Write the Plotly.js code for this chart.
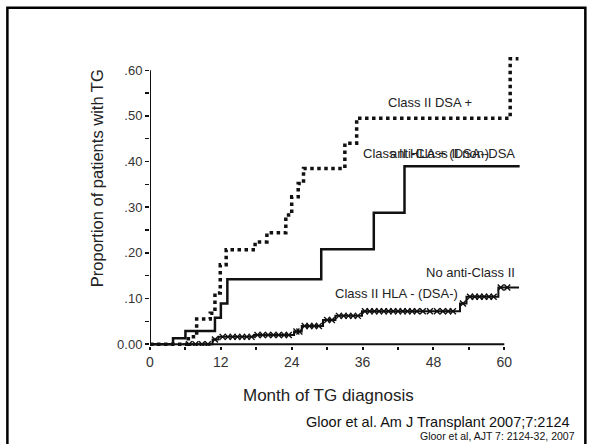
<!DOCTYPE html>
<html>
<head>
<meta charset="utf-8">
<script src="https://cdn.plot.ly/plotly-3.0.1.min.js"></script>
<style>html,body{margin:0;padding:0;background:#fff;}#chart{width:592px;height:444px;}</style>
</head>
<body>
<div id="chart"></div>
<script>
// Class II DSA + (dotted)
var dsaPosMonths = [0, 6.5, 7.9, 10.2, 11.0, 11.9, 12.9, 17.8, 19.8, 23.0, 24.0, 25.1, 26.0, 33.0, 35.0, 61.0, 62.4];
var dsaPosValues = [0, 0.016, 0.055, 0.068, 0.112, 0.174, 0.207, 0.224, 0.244, 0.283, 0.323, 0.352, 0.385, 0.440, 0.495, 0.625, 0.625];

// Class II HLA + (DSA-) / anti-Class II non-DSA (solid)
var nonDsaMonths = [0, 3.9, 6.0, 11.0, 12.0, 13.1, 29.0, 37.9, 43.1, 62.6];
var nonDsaValues = [0, 0.013, 0.029, 0.058, 0.089, 0.142, 0.208, 0.288, 0.390, 0.390];

// No anti-Class II / Class II HLA - (DSA-) (solid with censor marks)
var noAntiMonths = [5.5, 10.6, 11.6, 17.6, 24.4, 25.7, 29.3, 31.4, 35.9, 52.5, 53.6, 59.0, 62.5];
var noAntiValues = [0, 0.010, 0.016, 0.020, 0.028, 0.040, 0.053, 0.062, 0.072, 0.089, 0.104, 0.124, 0.124];

// censor marks on the No anti-Class II curve
var censorMonths = [6.6, 7.7, 8.8, 9.8, 11.0, 12.3, 13.2, 14.0, 14.8, 15.6, 16.4, 17.2, 18.2, 19.1, 20.0, 20.9, 21.8, 22.7, 23.5, 24.8, 25.3, 26.2, 27.0, 27.8, 28.6, 30.0, 30.8, 32.0, 32.8, 33.6, 34.4, 35.2, 36.4, 37.2, 38.0, 38.8, 39.6, 40.4, 41.2, 42.0, 42.8, 43.6, 44.4, 45.2, 46.2, 47.4, 48.6, 49.6, 50.5, 51.3, 53.0, 54.2, 55.0, 55.8, 56.6, 57.4, 58.2, 59.4, 60.5];
var censorValues = [0, 0, 0, 0, 0.010, 0.016, 0.016, 0.016, 0.016, 0.016, 0.016, 0.016, 0.020, 0.020, 0.020, 0.020, 0.020, 0.020, 0.020, 0.028, 0.028, 0.040, 0.040, 0.040, 0.040, 0.053, 0.053, 0.062, 0.062, 0.062, 0.062, 0.062, 0.072, 0.072, 0.072, 0.072, 0.072, 0.072, 0.072, 0.072, 0.072, 0.072, 0.072, 0.072, 0.072, 0.072, 0.072, 0.072, 0.072, 0.072, 0.089, 0.104, 0.104, 0.104, 0.104, 0.104, 0.104, 0.124, 0.124];

var xTickVals = [0, 12, 24, 36, 48, 60];
var xTickText = ['0', '12', '24', '36', '48', '60'];
var yTickVals = [0, 0.1, 0.2, 0.3, 0.4, 0.5, 0.6];
var yTickText = ['0.00', '.10', '.20', '.30', '.40', '.50', '.60'];

var FONT = 'Liberation Sans, Arial, sans-serif';

var traces = [
  {x: nonDsaMonths, y: nonDsaValues, mode: 'lines', line: {shape: 'hv', color: '#111', width: 2.5}, hoverinfo: 'skip'},
  {x: noAntiMonths, y: noAntiValues, mode: 'lines', line: {shape: 'hv', color: '#111', width: 2}, hoverinfo: 'skip'},
  {x: censorMonths, y: censorValues, mode: 'markers', marker: {symbol: 'x-thin', size: 6, color: '#111', line: {width: 1.4, color: '#111'}}, hoverinfo: 'skip'},
  {x: dsaPosMonths, y: dsaPosValues, mode: 'lines', line: {shape: 'hv', color: '#111', width: 3.5, dash: 'dot'}, hoverinfo: 'skip'}
];

var W = 371.7, H = 294.1, L = 150, T = 51.7;
function px(x) { return (x - L) / W; }
function py(y) { return (T + H - y) / H; }

var layout = {
  width: 592, height: 444,
  margin: {l: 150, r: 592 - 150 - 371.7, t: 51.7, b: 444 - 51.7 - 294.1},
  paper_bgcolor: '#fff', plot_bgcolor: 'rgba(0,0,0,0)',
  showlegend: false,
  font: {family: FONT, color: '#222'},
  xaxis: {
    range: [0, 63], showgrid: false, zeroline: false, showline: false,
    tickvals: xTickVals, ticktext: xTickText, ticks: 'outside', ticklen: 3, tickwidth: 2, tickcolor: '#111',
    minor: {dtick: 6, tick0: 0, ticks: 'outside', ticklen: 3, tickwidth: 2, tickcolor: '#111'},
    tickfont: {size: 14, color: '#333', family: FONT}
  },
  yaxis: {
    range: [-0.004, 0.64], showgrid: false, zeroline: false, showline: false,
    tickvals: yTickVals, ticktext: yTickText, ticks: 'outside', ticklen: 4, tickwidth: 1.5, tickcolor: '#111',
    minor: {dtick: 0.05, tick0: 0, ticks: 'outside', ticklen: 4, tickwidth: 1.5, tickcolor: '#111'},
    tickfont: {size: 13, color: '#333', family: FONT}
  },
  shapes: [
    {type: 'line', xref: 'x', yref: 'y', x0: 0, x1: 60, y0: 0, y1: 0, line: {color: '#111', width: 2}},
    {type: 'line', xref: 'x', yref: 'y', x0: 0, x1: 0, y0: 0, y1: 0.6, line: {color: '#111', width: 2}},
    {type: 'rect', xref: 'paper', yref: 'paper', x0: px(7.5), x1: px(585), y0: py(7.5), y1: py(470), line: {color: '#000', width: 2.5}, fillcolor: 'rgba(0,0,0,0)'}
  ],
  annotations: [
    {xref: 'x', yref: 'y', x: 47.46, y: 0.53, text: 'Class II DSA +', showarrow: false, xanchor: 'center', yanchor: 'middle', font: {size: 13, color: '#222'}},
    {xref: 'x', yref: 'y', x: 35.76, y: 0.418, text: 'Class II HLA + (DSA-)', showarrow: false, xanchor: 'left', yanchor: 'middle', font: {size: 13, color: '#222'}},
    {xref: 'x', yref: 'y', x: 62.2, y: 0.418, text: 'anti-Class II non-DSA', showarrow: false, xanchor: 'right', yanchor: 'middle', font: {size: 13, color: '#222'}},
    {xref: 'x', yref: 'y', x: 62.2, y: 0.158, text: 'No anti-Class II', showarrow: false, xanchor: 'right', yanchor: 'middle', font: {size: 13, color: '#222'}},
    {xref: 'x', yref: 'y', x: 30.97, y: 0.111, text: 'Class II HLA - (DSA-)', showarrow: false, xanchor: 'left', yanchor: 'middle', font: {size: 13, color: '#222'}},
    {xref: 'paper', yref: 'paper', x: px(97), y: py(178), text: 'Proportion of patients with TG', textangle: -90, showarrow: false, xanchor: 'center', yanchor: 'middle', font: {size: 16.5, color: '#222'}},
    {xref: 'paper', yref: 'paper', x: px(328), y: py(395), text: 'Month of TG diagnosis', showarrow: false, xanchor: 'center', yanchor: 'middle', font: {size: 17, color: '#222'}},
    {xref: 'paper', yref: 'paper', x: px(304), y: py(422), text: 'Gloor et al. Am J Transplant 2007;7:2124', showarrow: false, xanchor: 'left', yanchor: 'middle', font: {size: 14.5, color: '#111'}},
    {xref: 'paper', yref: 'paper', x: px(577), y: py(436), text: 'Gloor et al, AJT 7: 2124-32, 2007', showarrow: false, xanchor: 'right', yanchor: 'middle', font: {size: 10.5, color: '#111'}}
  ]
};

Plotly.newPlot('chart', traces, layout, {staticPlot: true, displayModeBar: false});
</script>
</body>
</html>
